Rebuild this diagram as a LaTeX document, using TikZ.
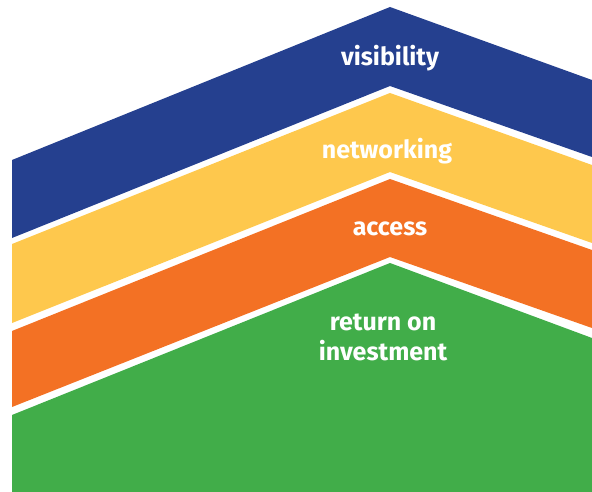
\documentclass[tikz,border=0pt]{standalone}
\usepackage{fontspec}
\setmainfont{Fira Sans}
\definecolor{bandblue}{HTML}{25408F}
\definecolor{bandyellow}{HTML}{FEC84D}
\definecolor{bandorange}{HTML}{F37124}
\definecolor{bandgreen}{HTML}{41AD49}
\tikzset{
  label/.style={text=white, font=\fontsize{25}{30}\selectfont\bfseries, align=center}
}
\begin{document}
\begin{tikzpicture}[x=1pt,y=-1pt]
	\useasboundingbox (0,0) rectangle (592,492);
	% bands, top to bottom
	\fill[bandblue] (12,160) -- (390,7) -- (592,80) -- (592,157) -- (390,86) -- (12,238) -- cycle;
	\fill[bandyellow] (12,244) -- (390,93) -- (592,165) -- (592,243) -- (390,172) -- (12,323) -- cycle;
	\fill[bandorange] (12,331) -- (390,179) -- (592,250) -- (592,328) -- (390,257) -- (12,407) -- cycle;
	\fill[bandgreen] (12,415) -- (390,263) -- (592,338) -- (592,492) -- (12,492) -- cycle;
	% labels
	\node[label] (visibility) at (390,58) {visibility};
	\node[label] (networking) at (387,151) {networking};
	\node[label] (access) at (390,229) {access};
	\node[label] (roi) at (383,337) {return on\\investment};
\end{tikzpicture}
\end{document}
